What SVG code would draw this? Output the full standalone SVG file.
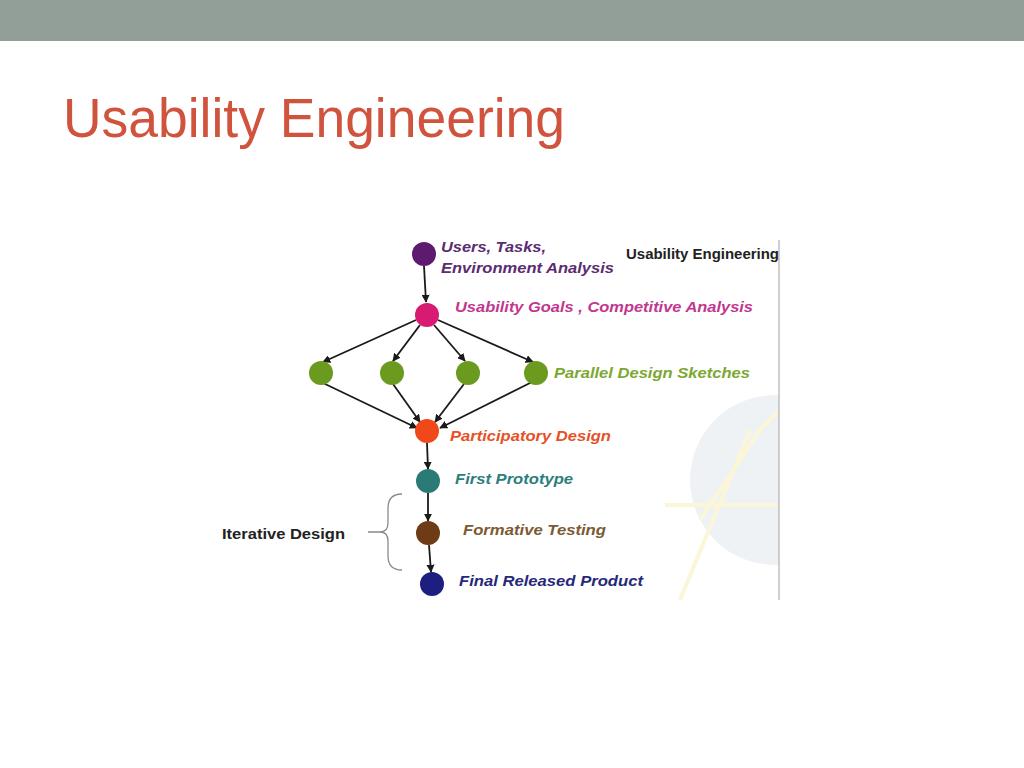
<svg xmlns="http://www.w3.org/2000/svg" width="1024" height="768" viewBox="0 0 1024 768">
<defs>
<style>
.lbl{font-family:"Liberation Sans",Arial,sans-serif;font-weight:bold;font-style:italic;font-size:15px}
.plain{font-family:"Liberation Sans",Arial,sans-serif;font-weight:bold;font-size:14px;fill:#222}
.edge{stroke:#1a1a1a;stroke-width:1.8;fill:none;marker-end:url(#ah)}
</style>
<marker id="ah" viewBox="0 0 10 10" refX="9" refY="5" markerWidth="4.5" markerHeight="4.5" orient="auto" markerUnits="strokeWidth">
<path d="M0,0 L10,5 L0,10 z" fill="#1a1a1a"/>
</marker>
<clipPath id="wm">
<rect x="600" y="385" width="179" height="220"/>
</clipPath>
</defs>
<rect x="0" y="0" width="1024" height="768" fill="#ffffff"/>
<rect x="0" y="0" width="1024" height="41" fill="#919F98"/>
<text x="63" y="137" font-family="Liberation Sans, Arial, sans-serif" font-size="55" fill="#CF533D" textLength="502" lengthAdjust="spacingAndGlyphs">Usability Engineering</text>

<g id="watermark" clip-path="url(#wm)" opacity="0.45">
<circle cx="775" cy="480" r="85" fill="#DDE3EA"/>
<path d="M700,520 L760,430 L790,400" stroke="#F4EDA8" stroke-width="4" fill="none"/>
<path d="M665,505 L790,505" stroke="#F4EDA8" stroke-width="4" fill="none"/>
<path d="M680,600 L750,430" stroke="#F4EDA8" stroke-width="4" fill="none"/>
</g>
<line x1="779" y1="240" x2="779" y2="600" stroke="#b0b0b0" stroke-width="1.2"/>

<g id="connectors">
<line class="edge" x1="424" y1="266" x2="426" y2="302"/>
<line class="edge" x1="416" y1="320" x2="323" y2="362"/>
<line class="edge" x1="420" y1="325" x2="393" y2="361"/>
<line class="edge" x1="434" y1="325" x2="465" y2="361"/>
<line class="edge" x1="438" y1="320" x2="533" y2="362"/>
<line class="edge" x1="323" y1="383" x2="417" y2="428"/>
<line class="edge" x1="393" y1="384" x2="420" y2="422"/>
<line class="edge" x1="464" y1="384" x2="435" y2="422"/>
<line class="edge" x1="532" y1="382" x2="440" y2="428"/>
<line class="edge" x1="427" y1="443" x2="428" y2="469"/>
<line class="edge" x1="428" y1="493" x2="428" y2="521"/>
<line class="edge" x1="429" y1="545" x2="431" y2="572"/>
</g>

<g id="n-users">
<circle cx="424" cy="254" r="12" fill="#5E1A6E"/>
<text class="lbl" x="441" y="252" fill="#5B2C6F" textLength="105" lengthAdjust="spacingAndGlyphs">Users, Tasks,</text>
<text class="lbl" x="441" y="273" fill="#5B2C6F" textLength="173" lengthAdjust="spacingAndGlyphs">Environment Analysis</text>
</g>
<g id="n-title">
<text class="plain" x="626" y="259" textLength="153" lengthAdjust="spacingAndGlyphs">Usability Engineering</text>
</g>
<g id="n-goals">
<circle cx="427" cy="315" r="12" fill="#D81B72"/>
<text class="lbl" x="455" y="312" fill="#C2378F" textLength="298" lengthAdjust="spacingAndGlyphs">Usability Goals , Competitive Analysis</text>
</g>
<g id="n-sketch1"><circle cx="321" cy="373" r="12" fill="#6A9B1E"/></g>
<g id="n-sketch2"><circle cx="392" cy="373" r="12" fill="#6A9B1E"/></g>
<g id="n-sketch3"><circle cx="468" cy="373" r="12" fill="#6A9B1E"/></g>
<g id="n-sketch4">
<circle cx="536" cy="373" r="12" fill="#6A9B1E"/>
<text class="lbl" x="554" y="378" fill="#7CA832" textLength="196" lengthAdjust="spacingAndGlyphs">Parallel Design Sketches</text>
</g>
<g id="n-participatory">
<circle cx="427" cy="431" r="12" fill="#F0481A"/>
<text class="lbl" x="450" y="441" fill="#E65128" textLength="161" lengthAdjust="spacingAndGlyphs">Participatory Design</text>
</g>
<g id="n-prototype">
<circle cx="428" cy="481" r="12" fill="#2A7B75"/>
<text class="lbl" x="455" y="484" fill="#2C7E7C" textLength="118" lengthAdjust="spacingAndGlyphs">First Prototype</text>
</g>
<g id="n-testing">
<circle cx="428" cy="533" r="12" fill="#6E3B16"/>
<text class="lbl" x="463" y="535" fill="#7B5B33" textLength="143" lengthAdjust="spacingAndGlyphs">Formative Testing</text>
</g>
<g id="n-final">
<circle cx="432" cy="584" r="12" fill="#1D1E80"/>
<text class="lbl" x="459" y="586" fill="#26287A" textLength="184" lengthAdjust="spacingAndGlyphs">Final Released Product</text>
</g>
<g id="n-iterative">
<text class="plain" x="222" y="539" textLength="123" lengthAdjust="spacingAndGlyphs">Iterative Design</text>
<path d="M402,494 Q388,494 388,508 L388,523 Q388,532 380,532 Q388,532 388,541 L388,556 Q388,570 402,570 M368,532 L380,532" stroke="#8a8a8a" stroke-width="1.3" fill="none"/>
</g>
</svg>
